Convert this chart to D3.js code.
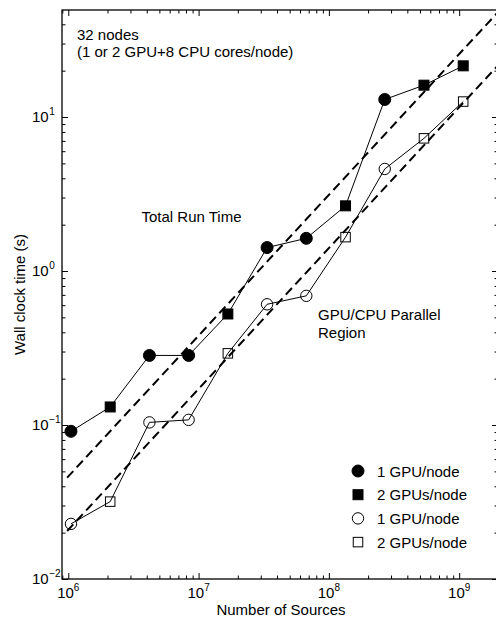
<!DOCTYPE html>
<html><head><meta charset="utf-8">
<script src="https://cdn.jsdelivr.net/npm/d3@7/dist/d3.min.js"></script>
<style>
body{margin:0;background:#fff;}
svg{display:block;font-family:"Liberation Sans",Arial,Helvetica,sans-serif;}
</style></head><body>
<svg id="c" width="496" height="619"></svg>
<script>
// ---- data ----
const sources = [1048576, 2097152, 4194304, 8388608, 16777216, 33554432, 67108864, 134217728, 268435456, 536870912, 1073741824];
const gpusPerNode = [1, 2, 1, 1, 2, 1, 1, 2, 1, 2, 2];
const totalTime = [0.091, 0.131, 0.283, 0.283, 0.526, 1.42, 1.63, 2.65, 13.0, 16.1, 21.5];
const parallelTime = [0.0228, 0.0318, 0.104, 0.108, 0.292, 0.608, 0.69, 1.66, 4.6, 7.27, 12.6];
const fitTotal = [[9.8e5, 0.0455], [2e9, 48.3]];
const fitParallel = [[9.8e5, 0.0205], [2e9, 21.8]];
const xMajorTicks = [1e6, 1e7, 1e8, 1e9];
const xTickExps = ["6", "7", "8", "9"];
const yMajorTicks = [1e-2, 1e-1, 1e0, 1e1];
const yTickExps = ["\u22122", "\u22121", "0", "1"];
const legendLabels = ["1 GPU/node", "2 GPUs/node", "1 GPU/node", "2 GPUs/node"];
const legendSymbols = ["circle", "square", "circle", "square"];
const legendFilled = [true, true, false, false];

// ---- layout ----
const L = 62, R = 498, T = 10, B = 579;
const svg = d3.select("#c");
const x = d3.scaleLog().domain([Math.pow(10, 5.9517), Math.pow(10, 9.298)]).range([L, R]);
const y = d3.scaleLog().domain([0.01, Math.pow(10, 1.695)]).range([B, T]);

function minorTicks(lo, hi) {
  const out = [];
  for (let e = lo; e < hi; e++) for (let m = 2; m <= 9; m++) out.push(m * Math.pow(10, e));
  return out;
}
const xMinor = minorTicks(5, 10).filter(v => v >= x.domain()[0] && v <= x.domain()[1]);
const yMinor = minorTicks(-2, 2).filter(v => v >= y.domain()[0] && v <= y.domain()[1]);

svg.append("clipPath").attr("id", "pc").append("rect")
  .attr("x", L).attr("y", T).attr("width", R - L).attr("height", B - T);

function drawAxis(axisFn, scale, vals, len, tr) {
  const g = svg.append("g").attr("transform", tr)
    .call(axisFn(scale).tickValues(vals).tickSize(len).tickFormat(""));
  g.select(".domain").remove();
  g.selectAll(".tick line").attr("stroke", "#000").attr("stroke-width", 1);
}
drawAxis(d3.axisTop, x, xMajorTicks, 6, `translate(0,${B})`);
drawAxis(d3.axisTop, x, xMinor, 3.5, `translate(0,${B})`);
drawAxis(d3.axisBottom, x, xMajorTicks, 6, `translate(0,${T})`);
drawAxis(d3.axisBottom, x, xMinor, 3.5, `translate(0,${T})`);
drawAxis(d3.axisRight, y, yMajorTicks, 6, `translate(${L},0)`);
drawAxis(d3.axisRight, y, yMinor, 3.5, `translate(${L},0)`);
drawAxis(d3.axisLeft, y, yMajorTicks, 6, `translate(${R},0)`);
drawAxis(d3.axisLeft, y, yMinor, 3.5, `translate(${R},0)`);

svg.append("rect").attr("x", L).attr("y", T).attr("width", R - L).attr("height", B - T)
  .attr("fill", "none").attr("stroke", "#000").attr("stroke-width", 1.3);

// tick labels
const xl = svg.append("g").selectAll("text").data(xMajorTicks).join("text")
  .attr("x", d => x(d)).attr("y", 598).attr("text-anchor", "middle")
  .attr("font-size", 15).attr("fill", "#000");
xl.append("tspan").text("10");
xl.append("tspan").text((d, i) => xTickExps[i]).attr("font-size", 10).attr("dy", -7.5);

const yl = svg.append("g").selectAll("text").data(yMajorTicks).join("text")
  .attr("x", 32).attr("y", d => y(d) + 5).attr("text-anchor", "start")
  .attr("font-size", 15).attr("fill", "#000");
yl.append("tspan").text("10");
yl.append("tspan").text((d, i) => yTickExps[i]).attr("font-size", 10).attr("dy", -7.5).attr("dx", 0.5);

// axis titles
svg.append("text").attr("x", (L + R) / 2 + 1).attr("y", 615).attr("text-anchor", "middle")
  .attr("font-size", 15).text("Number of Sources");
svg.append("text").attr("transform", `translate(25,${(T + B) / 2}) rotate(-90)`)
  .attr("text-anchor", "middle").attr("font-size", 15).text("Wall clock time (s)");

// plot content
const pg = svg.append("g").attr("clip-path", "url(#pc)");
const fitLine = d3.line().x(d => x(d[0])).y(d => y(d[1]));
[fitTotal, fitParallel].forEach(f => {
  pg.append("path").attr("d", fitLine(f)).attr("fill", "none").attr("stroke", "#000")
    .attr("stroke-width", 2).attr("stroke-dasharray", "9,5");
});
const dataLine = d3.line().x(d => x(d[0])).y(d => y(d[1]));
[totalTime, parallelTime].forEach(arr => {
  pg.append("path").attr("d", dataLine(sources.map((s, i) => [s, arr[i]])))
    .attr("fill", "none").attr("stroke", "#000").attr("stroke-width", 1);
});

function marker(g, cx, cy, sym, filled) {
  if (sym === "circle") {
    g.append("circle").attr("cx", cx).attr("cy", cy).attr("r", filled ? 6 : 5.7)
      .attr("fill", filled ? "#000" : "none").attr("stroke", "#000").attr("stroke-width", 1);
  } else {
    const s = filled ? 10 : 9.5;
    g.append("rect").attr("x", cx - s / 2).attr("y", cy - s / 2).attr("width", s).attr("height", s)
      .attr("fill", filled ? "#000" : "none").attr("stroke", "#000").attr("stroke-width", 1);
  }
}
sources.forEach((s, i) => {
  const sym = gpusPerNode[i] === 1 ? "circle" : "square";
  marker(pg, x(s), y(totalTime[i]), sym, true);
  marker(pg, x(s), y(parallelTime[i]), sym, false);
});

// annotations
svg.append("text").attr("x", 77).attr("y", 40).attr("font-size", 15).text("32 nodes");
svg.append("text").attr("x", 77).attr("y", 57).attr("font-size", 15).text("(1 or 2 GPU+8 CPU cores/node)");
svg.append("text").attr("x", 141.5).attr("y", 222).attr("font-size", 15).text("Total Run Time");
svg.append("text").attr("x", 318).attr("y", 320).attr("font-size", 15).text("GPU/CPU Parallel");
svg.append("text").attr("x", 318).attr("y", 338).attr("font-size", 15).text("Region");

// legend
const lg = svg.append("g");
legendLabels.forEach((lab, i) => {
  const cy = 471 + i * 23.7;
  marker(lg, 358, cy, legendSymbols[i], legendFilled[i]);
  lg.append("text").attr("x", 377).attr("y", cy + 5.5).attr("font-size", 15).text(lab);
});
</script>
</body></html>
